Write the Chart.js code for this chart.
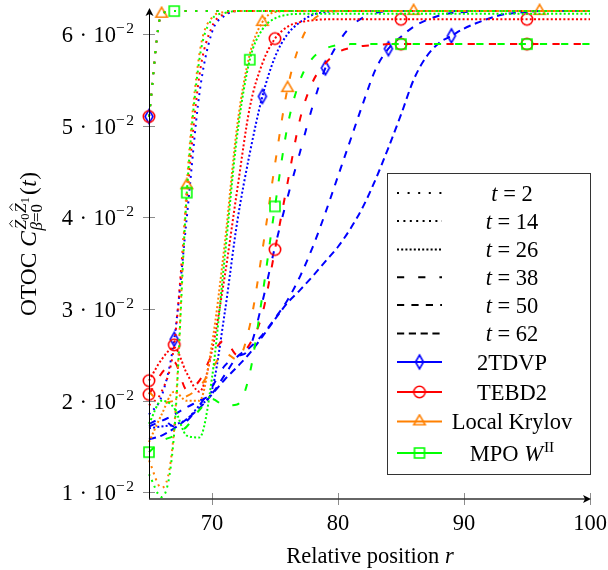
<!DOCTYPE html>
<html>
<head>
    <meta charset="utf-8">
    <title>OTOC front</title>
    <style>
        body { margin: 0; background-color: #fff; }
        #wrap { width: 608px; height: 570px; }
    </style>
    <script src="https://cdn.jsdelivr.net/npm/chart.js"></script>
</head>
<body>
    <div id="wrap"><canvas id="otocChart" width="608" height="570"></canvas></div>

    <script>
        // OTOC vs relative position r, one [r, value] list per method and time
        const times = [2, 14, 26, 38, 50, 62];

        // 2TDVP
        const tdvp_t2 = [[65, 0.0510], [66, 0.0622], [67, 0.0625], [100, 0.0625]];
        const tdvp_t14 = [[65, 0.0185], [66, 0.0205], [67, 0.0267], [68, 0.0400], [69, 0.0535], [70, 0.0602], [71, 0.0620], [72, 0.0625], [100, 0.0625]];
        const tdvp_t26 = [[65, 0.0170], [66, 0.0172], [67, 0.0174], [68, 0.0180], [69, 0.0195], [70, 0.0212], [71, 0.0295], [72, 0.0395], [73, 0.0470], [74, 0.0532], [75, 0.0575], [76, 0.0600], [77, 0.0613], [78, 0.0621], [79, 0.0624], [80, 0.0625], [100, 0.0625]];
        const tdvp_t38 = [[65, 0.0175], [66, 0.0180], [67, 0.0172], [68, 0.0178], [69, 0.0195], [70, 0.0215], [71, 0.0238], [72, 0.0248], [73, 0.0258], [74, 0.0308], [75, 0.0368], [76, 0.0422], [77, 0.0472], [78, 0.0522], [79, 0.0563], [80, 0.0590], [81, 0.0608], [82, 0.0618], [83, 0.0623], [84, 0.0625], [100, 0.0625]];
        const tdvp_t50 = [[65, 0.0172], [66, 0.0178], [67, 0.0185], [68, 0.0193], [69, 0.0200], [70, 0.0208], [71, 0.0228], [72, 0.0248], [73, 0.0258], [74, 0.0272], [75, 0.0290], [76, 0.0310], [77, 0.0336], [78, 0.0368], [79, 0.0405], [80, 0.0445], [81, 0.0485], [82, 0.0525], [83, 0.0562], [84, 0.0584], [85, 0.0597], [86, 0.0608], [87, 0.0615], [88, 0.0620], [89, 0.0623], [90, 0.0624], [91, 0.0625], [100, 0.0625]];
        const tdvp_t62 = [[65, 0.0158], [66, 0.0162], [67, 0.0170], [68, 0.0180], [69, 0.0192], [70, 0.0207], [71, 0.0223], [72, 0.0237], [73, 0.0252], [74, 0.0270], [75, 0.0289], [76, 0.0307], [77, 0.0321], [78, 0.0336], [79, 0.0352], [80, 0.0368], [81, 0.0388], [82, 0.0412], [83, 0.0442], [84, 0.0476], [85, 0.0512], [86, 0.0550], [87, 0.0575], [88, 0.0590], [89, 0.0598], [90, 0.0606], [91, 0.0612], [92, 0.0617], [93, 0.0621], [94, 0.0623], [95, 0.0624], [96, 0.0625], [100, 0.0625]];

        // TEBD2
        const tebd_t2 = [[65, 0.0510], [66, 0.0622], [67, 0.0625], [100, 0.0625]];
        const tebd_t14 = [[65, 0.0195], [66, 0.0210], [67, 0.0261], [68, 0.0420], [69, 0.0555], [70, 0.0608], [71, 0.0622], [72, 0.0625], [100, 0.0625]];
        const tebd_t26 = [[65, 0.0222], [66, 0.0245], [67, 0.0258], [68, 0.0230], [69, 0.0210], [70, 0.0255], [71, 0.0335], [72, 0.0430], [73, 0.0520], [74, 0.0568], [75, 0.0595], [76, 0.0608], [77, 0.0613], [78, 0.0615], [79, 0.0616], [85, 0.0616], [95, 0.0616], [100, 0.0616]];
        const tebd_t38 = [[65, 0.0207], [66, 0.0230], [67, 0.0242], [68, 0.0212], [69, 0.0222], [70, 0.0250], [71, 0.0266], [72, 0.0250], [73, 0.0262], [74, 0.0295], [75, 0.0365], [76, 0.0438], [77, 0.0508], [78, 0.0548], [79, 0.0568], [80, 0.0580], [81, 0.0585], [82, 0.0587], [83, 0.0588], [84, 0.0589], [85, 0.0589], [95, 0.0589], [100, 0.0589]];

        // Local Krylov
        const krylov_t2 = [[65, 0.0510], [66, 0.0622], [67, 0.0625], [100, 0.0625]];
        const krylov_t14 = [[65, 0.0135], [66, 0.0105], [67, 0.0170], [68, 0.0435], [69, 0.0578], [70, 0.0618], [71, 0.0624], [72, 0.0625], [100, 0.0625]];
        const krylov_t26 = [[65, 0.0155], [66, 0.0185], [67, 0.0210], [68, 0.0200], [69, 0.0200], [70, 0.0262], [71, 0.0370], [72, 0.0500], [73, 0.0578], [74, 0.0613], [75, 0.0624], [76, 0.0625], [100, 0.0625]];
        const krylov_t38 = [[65, 0.0210], [66, 0.0198], [67, 0.0200], [68, 0.0205], [69, 0.0215], [70, 0.0235], [71, 0.0252], [72, 0.0245], [73, 0.0282], [74, 0.0364], [75, 0.0458], [76, 0.0541], [77, 0.0590], [78, 0.0615], [79, 0.0623], [80, 0.0625], [86, 0.0625], [96, 0.0625], [100, 0.0625]];

        // MPO W^II
        const mpo_t2 = [[65, 0.0510], [66, 0.0622], [67, 0.0625], [100, 0.0625]];
        const mpo_t14 = [[65, 0.0120], [66, 0.0095], [67, 0.0165], [68, 0.0427], [69, 0.0572], [70, 0.0616], [71, 0.0623], [72, 0.0625], [100, 0.0625]];
        const mpo_t26 = [[65, 0.0175], [66, 0.0200], [67, 0.0192], [68, 0.0162], [69, 0.0160], [70, 0.0225], [71, 0.0355], [72, 0.0490], [73, 0.0572], [74, 0.0605], [75, 0.0617], [76, 0.0621], [77, 0.0622], [100, 0.0622]];
        const mpo_t38 = [[65, 0.0144], [66, 0.0156], [67, 0.0162], [68, 0.0172], [69, 0.0190], [70, 0.0202], [71, 0.0195], [72, 0.0196], [73, 0.0230], [74, 0.0315], [75, 0.0412], [76, 0.0500], [77, 0.0550], [78, 0.0574], [79, 0.0584], [80, 0.0588], [81, 0.0589], [85, 0.0589], [95, 0.0589], [100, 0.0589]];

        // axis ticks
        const xTicks = [70, 80, 90, 100];
        const yTicks = [0.01, 0.02, 0.03, 0.04, 0.05, 0.06];
        const yTickMantissa = ['1', '2', '3', '4', '5', '6'];

        // line style per time: loosely dotted, dotted, densely dotted, loosely dashed, dashed, densely dashed
        const timeDash = [[2, 8.6], [2, 4.4], [2, 2.2], [7.2, 14], [7.2, 7.2], [7.2, 4.6]];

        const methods = [
            { label: '2TDVP', color: '#0000ff', marker: 'diamond',
              series: [tdvp_t2, tdvp_t14, tdvp_t26, tdvp_t38, tdvp_t50, tdvp_t62],
              marks: [[65], [67], [74], [79], [84], [89]] },
            { label: 'TEBD2', color: '#ff0000', marker: 'circle',
              series: [tebd_t2, tebd_t14, tebd_t26, tebd_t38],
              marks: [[65], [67], [65, 75, 85, 95], [65, 75, 85, 95]] },
            { label: 'Local Krylov', color: '#ff8000', marker: 'triangle',
              series: [krylov_t2, krylov_t14, krylov_t26, krylov_t38],
              marks: [[66], [68], [74], [76, 86, 96]] },
            { label: 'MPO W^II', color: '#00ff00', marker: 'square',
              series: [mpo_t2, mpo_t14, mpo_t26, mpo_t38],
              marks: [[67], [68], [73], [65, 75, 85, 95]] }
        ];

        const SERIF = '"Liberation Serif", "DejaVu Serif", serif';
        const FS = 22.5;

        // hollow pgf-like marks as little canvases
        function markerCanvas(kind, color) {
            const c = document.createElement('canvas');
            c.width = kind === 'diamond' ? 12 : 16;
            c.height = kind === 'diamond' ? 18 : 16;
            const g = c.getContext('2d');
            const cx = c.width / 2, cy = c.height / 2;
            g.strokeStyle = color;
            g.lineWidth = 1.6;
            g.beginPath();
            if (kind === 'circle') {
                g.arc(cx, cy, 5.7, 0, 2 * Math.PI);
            } else if (kind === 'square') {
                g.rect(cx - 5, cy - 5, 10, 10);
            } else if (kind === 'triangle') {
                const r = 6.6;
                g.moveTo(cx, cy - r);
                g.lineTo(cx + r * 0.866, cy + r / 2);
                g.lineTo(cx - r * 0.866, cy + r / 2);
                g.closePath();
            } else {
                g.moveTo(cx, cy - 7);
                g.lineTo(cx + 4, cy);
                g.lineTo(cx, cy + 7);
                g.lineTo(cx - 4, cy);
                g.closePath();
            }
            g.stroke();
            return c;
        }
        methods.forEach(m => { m.icon = markerCanvas(m.marker, m.color); });

        let datasets = [];
        methods.forEach(m => {
            m.series.forEach((pts, i) => {
                const marks = m.marks[i];
                datasets.push({
                    label: m.label + ' t=' + times[i],
                    data: pts.map(p => ({ x: p[0], y: p[1] })),
                    borderColor: m.color,
                    borderWidth: 2,
                    borderDash: timeDash[i],
                    borderCapStyle: 'butt',
                    borderJoinStyle: 'round',
                    fill: false,
                    cubicInterpolationMode: 'monotone',
                    pointStyle: m.icon,
                    pointRadius: ctx => (ctx.raw && marks.includes(ctx.raw.x)) ? 6 : 0,
                    pointHoverRadius: 0,
                    clip: 14
                });
            });
        });
        // first dataset is drawn on top in Chart.js, so flip to get green on top
        datasets.reverse();

        // --- text helpers for the math-ish labels ---
        function setFont(ctx, p) {
            ctx.font = (p.it ? 'italic ' : '') + (p.s || FS) + 'px ' + SERIF;
        }
        function richWidth(ctx, parts) {
            let w = 0;
            parts.forEach(p => { setFont(ctx, p); w += ctx.measureText(p.t).width + (p.gap || 0); });
            return w;
        }
        function drawRich(ctx, parts, x, y) {
            let cx = x;
            parts.forEach(p => {
                setFont(ctx, p);
                const w = ctx.measureText(p.t).width;
                const by = y + (p.dy || 0);
                ctx.fillText(p.t, cx, by);
                if (p.hat) {
                    const s = p.s || FS;
                    const hx = cx + w * 0.6, hy = by - s * 0.74;
                    ctx.beginPath();
                    ctx.moveTo(hx - s * 0.2, hy);
                    ctx.lineTo(hx, hy - s * 0.17);
                    ctx.lineTo(hx + s * 0.2, hy);
                    ctx.lineWidth = 0.9;
                    ctx.strokeStyle = '#000';
                    ctx.stroke();
                }
                cx += w + (p.gap || 0);
            });
            return cx - x;
        }

        const legendRowY = [193, 221, 249.5, 277.3, 305, 333.5, 362, 392, 421.5, 453];

        const decorPlugin = {
            id: 'decor',
            afterDatasetsDraw(chart) {
                const ctx = chart.ctx;
                const a = chart.chartArea;
                const xs = chart.scales.x, ys = chart.scales.y;
                ctx.save();
                ctx.setLineDash([]);

                // tick marks
                ctx.strokeStyle = '#8c8c8c';
                ctx.lineWidth = 1;
                yTicks.forEach(v => {
                    const py = Math.round(ys.getPixelForValue(v)) + 0.5;
                    ctx.beginPath(); ctx.moveTo(a.left - 6, py); ctx.lineTo(a.left + 6, py); ctx.stroke();
                });
                xTicks.forEach(v => {
                    const px = Math.round(xs.getPixelForValue(v)) + 0.5;
                    ctx.beginPath(); ctx.moveTo(px, a.bottom - 6); ctx.lineTo(px, a.bottom + 6); ctx.stroke();
                });

                // axis lines with arrows
                ctx.strokeStyle = '#000';
                ctx.fillStyle = '#000';
                ctx.beginPath();
                ctx.moveTo(a.left + 0.5, a.bottom);
                ctx.lineTo(a.left + 0.5, a.top + 4);
                ctx.stroke();
                ctx.strokeStyle = '#333';
                ctx.lineWidth = 1.4;
                ctx.beginPath();
                ctx.moveTo(a.left, a.bottom);
                ctx.lineTo(a.right - 4, a.bottom);
                ctx.stroke();
                const ax = a.left + 0.5, ay = a.top - 1;
                ctx.beginPath();
                ctx.moveTo(ax, ay); ctx.lineTo(ax + 4, ay + 8); ctx.lineTo(ax, ay + 6); ctx.lineTo(ax - 4, ay + 8); ctx.closePath(); ctx.fill();
                const bx = a.right + 1, by = a.bottom;
                ctx.beginPath();
                ctx.moveTo(bx, by); ctx.lineTo(bx - 8, by - 4); ctx.lineTo(bx - 6, by); ctx.lineTo(bx - 8, by + 4); ctx.closePath(); ctx.fill();

                // tick labels
                ctx.textBaseline = 'alphabetic';
                yTicks.forEach((v, i) => {
                    const py = ys.getPixelForValue(v);
                    const parts = [{ t: yTickMantissa[i], gap: 6.5 }, { t: '\u00b7', gap: 6.5 }, { t: '10' },
                                   { t: '\u2212', s: 15.5, dy: -9, gap: 1.5 }, { t: '2', s: 15.5, dy: -9 }];
                    const w = richWidth(ctx, parts);
                    drawRich(ctx, parts, 134 - w, py + 8);
                });
                xTicks.forEach(v => {
                    const parts = [{ t: String(v) }];
                    const w = richWidth(ctx, parts);
                    drawRich(ctx, parts, xs.getPixelForValue(v) - w / 2, 530);
                });

                // axis titles
                const xt = [{ t: 'Relative position ' }, { t: 'r', it: true }];
                drawRich(ctx, xt, 370 - richWidth(ctx, xt) / 2, 563);

                const head = [{ t: 'OTOC ', s: 23.5 }, { t: 'C', it: true, s: 23.5, gap: 1.5 }];
                const sup = [{ t: 'Z', it: true, s: 17.5, hat: true }, { t: '0', s: 12.5, dy: 3, gap: 0.5 },
                             { t: 'Z', it: true, s: 17.5, hat: true }, { t: '1', s: 12.5, dy: 3 }];
                const sub = [{ t: '\u03b2', it: true, s: 17 }, { t: '=0', s: 17 }];
                const tail = [{ t: '(', s: 23.5, gap: 0.5 }, { t: 't', it: true, s: 23.5, gap: 0.5 }, { t: ')', s: 23.5 }];
                const wHead = richWidth(ctx, head), wSup = richWidth(ctx, sup), wSub = richWidth(ctx, sub);
                const wStack = Math.max(wSup, wSub) + 2;
                const wAll = wHead + wStack + richWidth(ctx, tail);
                ctx.save();
                ctx.translate(36, 244);
                ctx.rotate(-Math.PI / 2);
                let tx = -wAll / 2;
                drawRich(ctx, head, tx, 0);
                tx += wHead;
                drawRich(ctx, sup, tx, -10.5);
                drawRich(ctx, sub, tx - 1, 6);
                tx += wStack;
                drawRich(ctx, tail, tx, 0);
                ctx.restore();

                // legend box
                ctx.fillStyle = '#fff';
                ctx.fillRect(387.5, 173.5, 203, 301);
                ctx.strokeStyle = '#333';
                ctx.lineWidth = 1;
                ctx.strokeRect(387.5, 173.5, 203, 301);

                const entries = [];
                times.forEach((t, i) => entries.push({ text: [{ t: 't', it: true }, { t: ' = ' }, { t: String(t) }], dash: timeDash[i], color: '#000' }));
                methods.forEach(m => {
                    let text = [{ t: m.label }];
                    if (m.label === 'MPO W^II') text = [{ t: 'MPO ' }, { t: 'W', it: true, gap: 1 }, { t: 'II', s: 15.5, dy: -9 }];
                    entries.push({ text: text, dash: [], color: m.color, icon: m.icon });
                });
                entries.forEach((e, i) => {
                    const ry = legendRowY[i];
                    ctx.strokeStyle = e.color;
                    ctx.lineWidth = 2;
                    ctx.lineCap = 'butt';
                    ctx.setLineDash(e.dash);
                    ctx.beginPath(); ctx.moveTo(397, ry); ctx.lineTo(442, ry); ctx.stroke();
                    ctx.setLineDash([]);
                    if (e.icon) ctx.drawImage(e.icon, 419.5 - e.icon.width / 2, ry - e.icon.height / 2);
                    ctx.fillStyle = '#000';
                    const w = richWidth(ctx, e.text);
                    drawRich(ctx, e.text, 512 - w / 2, ry + 7.5);
                });

                ctx.restore();
            }
        };

        var otocChart = new Chart(
            document.getElementById('otocChart'),
            {
                type: 'line',
                data: { datasets: datasets },
                options: {
                    responsive: false,
                    animation: false,
                    events: [],
                    layout: { padding: { left: 149, right: 18, top: 9, bottom: 71 } },
                    scales: {
                        x: { type: 'linear', min: 65, max: 100, display: false },
                        y: { type: 'linear', min: 0.00929, max: 0.06273, display: false }
                    },
                    plugins: {
                        legend: { display: false },
                        tooltip: { enabled: false }
                    }
                },
                plugins: [decorPlugin]
            }
        );
    </script>
</body>
</html>
